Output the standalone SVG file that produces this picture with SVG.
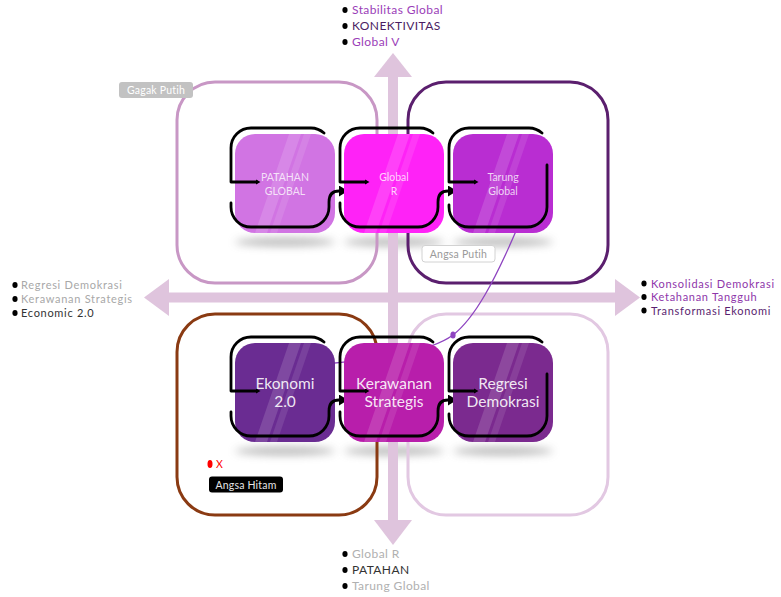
<svg xmlns="http://www.w3.org/2000/svg" xmlns:xlink="http://www.w3.org/1999/xlink" width="781" height="597" viewBox="0 0 781 597">
  <style>
    .lbl { font-family: Lato, "Liberation Sans", sans-serif; font-size: 12px; letter-spacing: 0.4px; }
    .lbl-side { font-family: Lato, "Liberation Sans", sans-serif; font-size: 11px; letter-spacing: 0.7px; }
    .nsm { font-family: Lato, "Liberation Sans", sans-serif; font-size: 10.5px; fill: #ffffff; fill-opacity: 0.78; text-anchor: middle; }
    .nlg { font-family: Lato, "Liberation Sans", sans-serif; font-size: 15.5px; fill: #ffffff; fill-opacity: 0.9; text-anchor: middle; }
    .tag { font-family: Lato, "Liberation Sans", sans-serif; font-size: 10.5px; text-anchor: middle; letter-spacing: 0.2px; }
    .mark { font-family: Lato, "Liberation Sans", sans-serif; font-size: 10.5px; fill: #ff0000; }
    .loop { fill: none; stroke: #000; stroke-width: 2.8; stroke-linecap: round; stroke-linejoin: round; }
    .quad { fill: none; stroke-width: 3; }
    .axis { fill: #dfc4dd; }
    .stripe { fill: #ffffff; }
    .shadow { fill: #6e6e6e; opacity: 0.5; filter: url(#blur); }
  </style>
  <defs>
    <filter id="blur" x="-40%" y="-300%" width="180%" height="700%">
      <feGaussianBlur stdDeviation="4.5"/>
    </filter>
    <clipPath id="nodeClip" clipPathUnits="userSpaceOnUse">
      <rect x="0" y="0" width="100" height="99" rx="20"/>
    </clipPath>
    <marker id="arrow" markerUnits="userSpaceOnUse" markerWidth="10" markerHeight="11" refX="0" refY="5.5" orient="auto">
      <path d="M0,0 L9,5.5 L0,11 z" fill="#000"/>
    </marker>
    <marker id="tip" markerUnits="userSpaceOnUse" markerWidth="5" markerHeight="6" refX="1" refY="3" orient="auto-start-reverse">
      <path d="M0,0.5 L4.5,3 L0,5.5 z" fill="#000"/>
    </marker>
    <!-- black outline of a node that hands on to the next node -->
    <g id="loopMid">
      <path class="loop" marker-start="url(#tip)" d="M 22,48 H -4 V 14 A 20 20 0 0 1 16 -6 H 76 A 20 20 0 0 1 89 -1"/>
      <path class="loop" marker-end="url(#arrow)" d="M -4,69 V 73 A 20 20 0 0 0 16 93 H 74 A 20 20 0 0 0 94 73 V 68 C 94,61 97,57 104,57"/>
    </g>
    <!-- black outline of the last node in a row -->
    <g id="loopEnd">
      <path class="loop" marker-start="url(#tip)" d="M 22,48 H -4 V 14 A 20 20 0 0 1 16 -6 H 76 A 20 20 0 0 1 89 -1"/>
      <path class="loop" d="M -4,71 V 73 A 20 20 0 0 0 16 93 H 74 A 20 20 0 0 0 94 73 V 31"/>
    </g>
    <!-- glossy diagonal bands -->
    <g id="bands" clip-path="url(#nodeClip)">
      <polygon class="stripe" opacity="0.14" points="54,0 66,0 32,99 20,99"/>
      <polygon class="stripe" opacity="0.10" points="69,0 76,0 42,99 35,99"/>
    </g>
  </defs>

  <!-- floor shadows -->
  <g id="shadows">
    <ellipse class="shadow" cx="285" cy="242" rx="50" ry="4"/>
    <ellipse class="shadow" cx="394" cy="242" rx="50" ry="4"/>
    <ellipse class="shadow" cx="503" cy="242" rx="50" ry="4"/>
    <ellipse class="shadow" cx="285" cy="451" rx="50" ry="4"/>
    <ellipse class="shadow" cx="394" cy="451" rx="50" ry="4"/>
    <ellipse class="shadow" cx="503" cy="451" rx="50" ry="4"/>
  </g>

  <!-- axes -->
  <g id="axes">
    <rect class="axis" x="388" y="76" width="10" height="445"/>
    <polygon class="axis" points="393,53 412,77 374,77"/>
    <polygon class="axis" points="393,545 412,520 374,520"/>
    <rect class="axis" x="168" y="292.5" width="449" height="10"/>
    <polygon class="axis" points="144,297.5 169,279 169,316"/>
    <polygon class="axis" points="640,297.5 615,279 615,316"/>
  </g>

  <!-- quadrants -->
  <g id="quadrants">
    <rect id="q-top-left" class="quad" stroke="#c897c5" x="177" y="82" width="200" height="201" rx="38"/>
    <rect id="q-top-right" class="quad" stroke="#5b1f6e" x="408" y="82" width="200" height="201" rx="38"/>
    <rect id="q-bottom-left" class="quad" stroke="#8a3a12" x="177" y="314" width="200" height="201" rx="38"/>
    <rect id="q-bottom-right" class="quad" stroke="#e2c8e2" x="408" y="314" width="200" height="201" rx="38"/>
  </g>

  <!-- connectors -->
  <g id="connectors">
    <path d="M 516,231 C 495,280 475,318 453,335 C 430,352 380,360 300,366" fill="none" stroke="#8e44c0" stroke-width="1.3"/>
    <ellipse cx="453" cy="335" rx="2.6" ry="3.6" fill="#8e44c0"/>
  </g>

  <!-- top row -->
  <g id="node-patahan-global" transform="translate(235,134)">
    <rect width="100" height="99" rx="20" fill="#d174e3"/>
    <use xlink:href="#bands"/>
    <use xlink:href="#loopMid"/>
    <text class="nsm" x="50" y="47">PATAHAN</text>
    <text class="nsm" x="50" y="61">GLOBAL</text>
  </g>
  <g id="node-global-r" transform="translate(344,134)">
    <rect width="100" height="99" rx="20" fill="#ff22f7"/>
    <use xlink:href="#bands"/>
    <use xlink:href="#loopMid"/>
    <text class="nsm" x="50" y="47">Global</text>
    <text class="nsm" x="50" y="61">R</text>
  </g>
  <g id="node-tarung-global" transform="translate(453,134)">
    <rect width="100" height="99" rx="20" fill="#b92dd2"/>
    <use xlink:href="#bands"/>
    <use xlink:href="#loopEnd"/>
    <text class="nsm" x="50" y="47">Tarung</text>
    <text class="nsm" x="50" y="61">Global</text>
  </g>

  <!-- bottom row -->
  <g id="node-ekonomi" transform="translate(235,343)">
    <rect width="100" height="99" rx="20" fill="#6a2c92"/>
    <use xlink:href="#bands"/>
    <use xlink:href="#loopMid"/>
    <text class="nlg" x="50" y="46">Ekonomi</text>
    <text class="nlg" x="50" y="64">2.0</text>
  </g>
  <g id="node-kerawanan" transform="translate(344,343)">
    <rect width="100" height="99" rx="20" fill="#b81eab"/>
    <use xlink:href="#bands"/>
    <use xlink:href="#loopMid"/>
    <text class="nlg" x="50" y="46">Kerawanan</text>
    <text class="nlg" x="50" y="64">Strategis</text>
  </g>
  <g id="node-regresi" transform="translate(453,343)">
    <rect width="100" height="99" rx="20" fill="#7b2a8f"/>
    <use xlink:href="#bands"/>
    <use xlink:href="#loopEnd"/>
    <text class="nlg" x="50" y="46">Regresi</text>
    <text class="nlg" x="50" y="64">Demokrasi</text>
  </g>

  <!-- tags -->
  <g id="tag-gagak-putih">
    <rect x="119" y="82" width="74" height="16" rx="3" fill="#c2c2c2"/>
    <text class="tag" x="156" y="93.5" fill="#ffffff">Gagak Putih</text>
  </g>
  <g id="tag-angsa-putih">
    <rect x="422" y="245.5" width="73" height="16.5" rx="3" fill="#ffffff" stroke="#d2d2d2" stroke-width="1"/>
    <text class="tag" x="458.5" y="257.5" fill="#9a9a9a">Angsa Putih</text>
  </g>
  <g id="tag-angsa-hitam">
    <ellipse cx="210" cy="464" rx="2.5" ry="4" fill="#ff0000"/>
    <text class="mark" x="216" y="468">X</text>
    <rect x="209" y="476.5" width="74" height="16" rx="3" fill="#000000"/>
    <text class="tag" x="246" y="488.5" fill="#e6e6e6">Angsa Hitam</text>
  </g>

  <!-- legend lists at the axis ends -->
  <g id="legend-top" class="lbl">
    <ellipse cx="345" cy="10" rx="2.6" ry="2.9" fill="#000"/>
    <text x="352" y="14" fill="#9a3db8">Stabilitas Global</text>
    <ellipse cx="345" cy="26" rx="2.6" ry="2.9" fill="#000"/>
    <text x="352" y="30" fill="#4a1d63">KONEKTIVITAS</text>
    <ellipse cx="345" cy="42" rx="2.6" ry="2.9" fill="#000"/>
    <text x="352" y="46" fill="#9a3db8">Global V</text>
  </g>
  <g id="legend-left" class="lbl-side">
    <ellipse cx="15" cy="285" rx="2.6" ry="2.9" fill="#000"/>
    <text x="21" y="289" fill="#a8a8a8">Regresi Demokrasi</text>
    <ellipse cx="15" cy="299" rx="2.6" ry="2.9" fill="#000"/>
    <text x="21" y="303" fill="#a8a8a8">Kerawanan Strategis</text>
    <ellipse cx="15" cy="313" rx="2.6" ry="2.9" fill="#000"/>
    <text x="21" y="317" fill="#333333">Economic 2.0</text>
  </g>
  <g id="legend-right" class="lbl-side">
    <ellipse cx="644" cy="283.5" rx="2.6" ry="2.9" fill="#000"/>
    <text x="651" y="287.5" fill="#8e36aa">Konsolidasi Demokrasi</text>
    <ellipse cx="644" cy="297" rx="2.6" ry="2.9" fill="#000"/>
    <text x="651" y="301" fill="#8e36aa">Ketahanan Tangguh</text>
    <ellipse cx="644" cy="310.5" rx="2.6" ry="2.9" fill="#000"/>
    <text x="651" y="314.5" fill="#5a1f70">Transformasi Ekonomi</text>
  </g>
  <g id="legend-bottom" class="lbl">
    <ellipse cx="345" cy="554" rx="2.6" ry="2.9" fill="#000"/>
    <text x="352" y="558" fill="#b0b0b0">Global R</text>
    <ellipse cx="345" cy="570" rx="2.6" ry="2.9" fill="#000"/>
    <text x="352" y="574" fill="#333333">PATAHAN</text>
    <ellipse cx="345" cy="586" rx="2.6" ry="2.9" fill="#000"/>
    <text x="352" y="590" fill="#b0b0b0">Tarung Global</text>
  </g>
</svg>
